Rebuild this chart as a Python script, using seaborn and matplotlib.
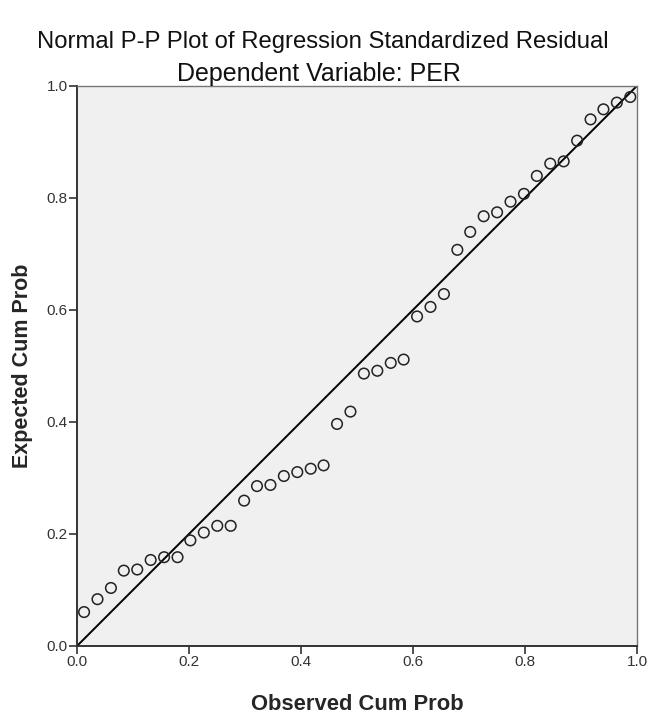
import matplotlib
matplotlib.use("Agg")
import matplotlib.pyplot as plt
import seaborn as sns
import pandas as pd

# observed vs expected cumulative probabilities
observed = [0.012, 0.036, 0.060, 0.083, 0.107, 0.131, 0.155, 0.179, 0.202, 0.226,
            0.250, 0.274, 0.298, 0.321, 0.345, 0.369, 0.393, 0.417, 0.440, 0.464,
            0.488, 0.512, 0.536, 0.560, 0.583, 0.607, 0.631, 0.655, 0.679, 0.702,
            0.726, 0.750, 0.774, 0.798, 0.821, 0.845, 0.869, 0.893, 0.917, 0.940,
            0.964, 0.988]
expected = [0.060, 0.083, 0.103, 0.134, 0.136, 0.153, 0.158, 0.158, 0.188, 0.202,
            0.214, 0.214, 0.259, 0.285, 0.287, 0.303, 0.310, 0.316, 0.322, 0.396,
            0.418, 0.486, 0.491, 0.505, 0.511, 0.588, 0.605, 0.628, 0.707, 0.739,
            0.767, 0.774, 0.793, 0.807, 0.839, 0.861, 0.865, 0.902, 0.940, 0.958,
            0.970, 0.980]
diag = [0.0, 1.0]
ticks = [0.0, 0.2, 0.4, 0.6, 0.8, 1.0]
tick_labels = ["0.0", "0.2", "0.4", "0.6", "0.8", "1.0"]

df = pd.DataFrame({"observed": observed, "expected": expected})

sns.set_style("white")
plt.rcParams["font.family"] = ["Liberation Sans", "DejaVu Sans"]

fig = plt.figure(figsize=(6.5, 7.15), dpi=100)
ax = fig.add_axes([0.119, 0.097, 0.861, 0.783])
ax.set_facecolor("#f0f0f0")

sns.lineplot(x=diag, y=diag, ax=ax, color="black", linewidth=1.4, zorder=2)
sns.scatterplot(data=df, x="observed", y="expected", ax=ax, s=58, marker="o",
                facecolor="none", edgecolor="#222222", linewidth=1.1, zorder=3)

ax.set_xlim(0, 1)
ax.set_ylim(0, 1)
ax.set_xticks(ticks)
ax.set_xticklabels(tick_labels)
ax.set_yticks(ticks)
ax.set_yticklabels(tick_labels)
ax.tick_params(axis="both", direction="out", length=6, width=1.2, color="#333333",
               labelsize=11, labelcolor="#333333", pad=1, bottom=True, left=True)

for side in ["left", "bottom"]:
    ax.spines[side].set_color("#333333")
    ax.spines[side].set_linewidth(1.4)
for side in ["top", "right"]:
    ax.spines[side].set_color("#777777")
    ax.spines[side].set_linewidth(1.0)

ax.set_xlabel("Observed Cum Prob", fontsize=15.8, fontweight="bold", labelpad=18)
ax.set_ylabel("Expected Cum Prob", fontsize=15.5, fontweight="bold", labelpad=10)

fig.text(0.496, 0.941, "Normal P-P Plot of Regression Standardized Residual",
         ha="center", va="center", fontsize=17.2, color="#111111")
fig.text(0.490, 0.896, "Dependent Variable: PER", ha="center", va="center",
         fontsize=18, color="#111111")

fig.savefig("out.png", dpi=100)
